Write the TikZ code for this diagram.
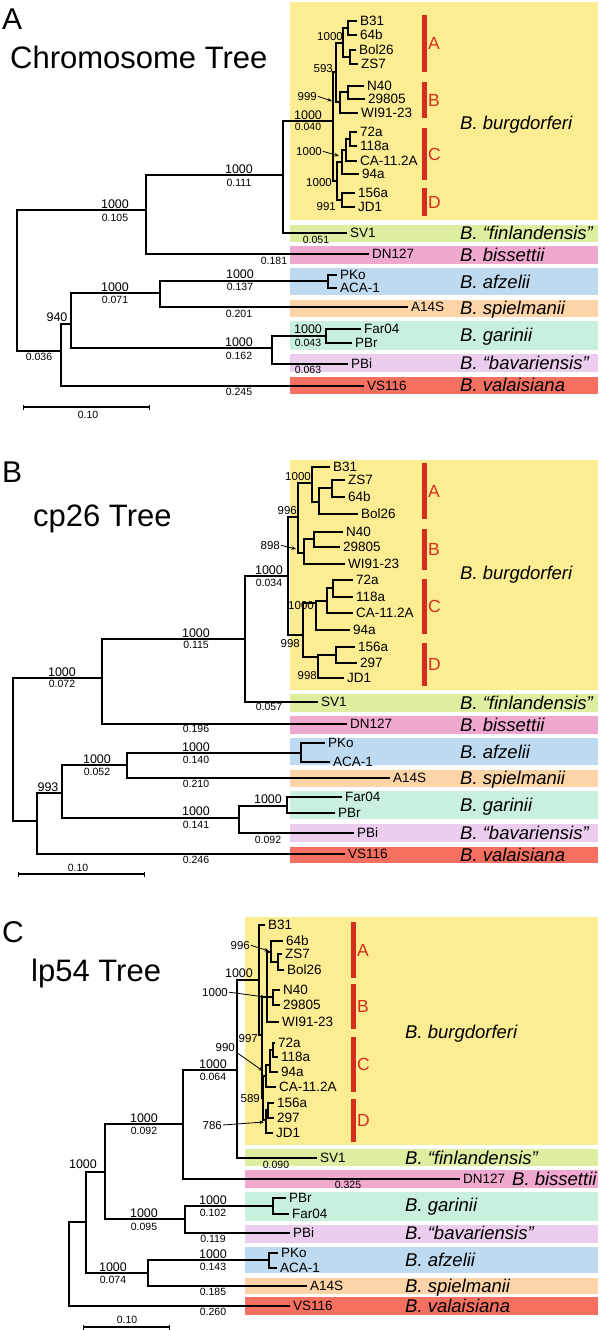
\documentclass[tikz,border=0pt]{standalone}
\usepackage{fontspec}
\setmainfont{Liberation Sans}
\usetikzlibrary{positioning,arrows.meta}

\definecolor{burgY}{RGB}{252,236,146}
\definecolor{finlG}{RGB}{221,238,160}
\definecolor{bissP}{RGB}{240,168,206}
\definecolor{afzB}{RGB}{190,218,240}
\definecolor{spielO}{RGB}{252,212,168}
\definecolor{garM}{RGB}{200,240,220}
\definecolor{bavL}{RGB}{235,206,238}
\definecolor{valR}{RGB}{246,112,98}
\definecolor{cladeR}{RGB}{214,46,30}

\tikzset{
  branch/.style={line width=1.8pt},
  twig/.style={line width=1.4pt},
  taxon/.style={font=\fontsize{13.5}{14}\selectfont, anchor=west, inner sep=0pt, text height=9.7pt, text depth=0pt},
  species/.style={font=\fontsize{18.5}{20}\selectfont\itshape, anchor=west, inner sep=0pt, text height=13.2pt, text depth=0pt},
  boot/.style={font=\fontsize{12.5}{13}\selectfont, anchor=base, inner sep=0pt},
  blen/.style={font=\fontsize{10.5}{11}\selectfont, anchor=base, inner sep=0pt},
  sboot/.style={font=\fontsize{11.5}{12}\selectfont, anchor=base east, inner sep=0pt},
  cladebar/.style={cladeR, line width=5pt},
  cladetag/.style={cladeR, font=\fontsize{17.5}{18}\selectfont, anchor=west, inner sep=0pt, text height=12.5pt, text depth=0pt},
  ptr/.style={line width=0.8pt, shorten <=1pt, -{Stealth[length=4.5pt,width=3.5pt]}},
  scalebar/.style={line width=1.3pt, {Bar[width=5pt,line width=1pt]}-{Bar[width=5pt,line width=1pt]}},
  treetitle/.style={font=\fontsize{31}{34}\selectfont, anchor=base west, inner sep=0pt},
  paneltag/.style={font=\fontsize{30}{32}\selectfont, anchor=base west, inner sep=0pt},
}

\begin{document}
\begin{tikzpicture}[x=1pt,y=-1pt]
  \useasboundingbox (0,0) rectangle (600,1330);

  % ================= Panel A: chromosome tree =================
  \node[paneltag] (tagA) at (2,30) {A};
  \node[treetitle] (titleA) at (10,68) {Chromosome Tree};

  % species bands
  \foreach \yt/\yb/\col in {2/220/burgY, 225/242/finlG, 246/264/bissP, 268/295/afzB,
      300/317/spielO, 321/350/garM, 354/372/bavL, 377/394/valR}
    \fill[\col] (290,\yt) rectangle (598,\yb);
  \foreach \n/\y/\t in {bu/123/burgdorferi, fi/233/“finlandensis”, bi/255/bissettii,
      af/282/afzelii, sp/308/spielmanii, ga/335/garinii, ba/363/“bavariensis”, va/385/valaisiana}
    \node[species] (spA\n) at (460,\y) {B. \t};

  % clade bars
  \foreach \n/\yt/\yb in {A/15/72, B/82/118, C/128/180, D/188/216} {
    \draw[cladebar] (424.5,\yt) -- (424.5,\yb);
    \node[cladetag] (clA\n) at (428,{(\yt+\yb)/2}) {\n};
  }

  % tips
  \foreach \n/\x/\y/\t in {b31/357/21/B31, 64b/357/35/64b, bol/356/50/Bol26, zs7/358/64/ZS7,
      n40/364/86/N40, 298/365/99/29805, wi9/358/113/WI91-23,
      72a/357/132/72a, 118/357/146/118a, ca1/357/161/CA-11.2A, 94a/359/174/94a,
      156/355/193/156a, jd1/355/207/JD1,
      sv1/347/233/SV1, dn1/369/254/DN127, pko/337/275/PKo, aca/337/288/ACA-1,
      a14/408/307/A14S, far/361/329/Far04, pbr/352/343/PBr, pbi/348/364/PBi, vs1/364/386/VS116} {
    \coordinate (tA\n) at (\x,\y);
    \node[taxon, right=3pt of tA\n] (lA\n) {\t};
  }

  % inner nodes
  \coordinate (rA) at (17,280);
  \coordinate (nA2) at (146,210);
  \coordinate (nA3) at (283,175);
  \coordinate (nA4) at (333,121);
  \coordinate (nAab) at (336,72);
  \coordinate (nAa) at (343,43);
  \coordinate (nAa1) at (348,28);
  \coordinate (nAa2) at (350,57);
  \coordinate (nAb) at (340,102);
  \coordinate (nAb1) at (348,92);
  \coordinate (nAcd) at (337,181);
  \coordinate (nAc) at (342,162);
  \coordinate (nAc1) at (346,150);
  \coordinate (nAc2) at (350,139);
  \coordinate (nAd) at (342,200);
  \coordinate (nA9) at (61,351);
  \coordinate (nA10) at (71,324);
  \coordinate (nA11) at (160,293);
  \coordinate (nA12) at (328,281);
  \coordinate (nA13) at (272,348);
  \coordinate (nA14) at (326,336);

  % branches
  \foreach \p/\c in {rA/nA2, rA/nA9, nA2/nA3, nA2/tAdn1, nA3/nA4, nA3/tAsv1,
      nA9/nA10, nA9/tAvs1, nA10/nA11, nA10/nA13, nA11/nA12, nA11/tAa14,
      nA12/tApko, nA12/tAaca, nA13/nA14, nA13/tApbi, nA14/tAfar, nA14/tApbr}
    \draw[branch] (\p) |- (\c);
  \foreach \p/\c in {nA4/nAab, nA4/nAcd, nAab/nAa, nAab/nAb, nAa/nAa1, nAa/nAa2,
      nAa1/tAb31, nAa1/tA64b, nAa2/tAbol, nAa2/tAzs7, nAb/nAb1, nAb/tAwi9,
      nAb1/tAn40, nAb1/tA298, nAcd/nAc, nAcd/nAd, nAc/nAc1, nAc/tA94a,
      nAc1/nAc2, nAc1/tAca1, nAc2/tA72a, nAc2/tA118, nAd/tA156, nAd/tAjd1}
    \draw[twig] (\p) |- (\c);

  % support values and branch lengths
  \foreach \n/\x/\y/\t in {a3/239/173/1000, a2/115/208/1000, a11/115/291/1000, a12/240/278/1000,
      a13/239/346/1000, a4/308/119/1000, a14/308/333/1000, a10/57/321/940}
    \node[boot] (bA\n) at (\x,\y) {\t};
  \foreach \n/\x/\y/\t in {a3/239/186/0.111, a2/115/221/0.105, a9/39/360/0.036, a11/115/303/0.071,
      a12/240/290/0.137, a14s/239/317/0.201, a13/239/359/0.162, vs/239/395/0.245,
      dn/274/264/0.181, sv/316/243/0.051, a4/308/130/0.040, a14/308/346/0.043, pbi/308/373/0.063}
    \node[blen] (lenA\n) at (\x,\y) {\t};
  \foreach \n/\x/\y/\t in {aa/343/41/1000, ab/333/72/593, a999/317/100/999, ac/322/155/1000,
      acd/332/186/1000, ad/336/210/991}
    \node[sboot] (sA\n) at (\x,\y) {\t};
  \coordinate (pA999) at (332,101);
  \coordinate (pAc) at (339,156);
  \draw[ptr] (sAa999.east) -- (pA999);
  \draw[ptr] (sAac.east) -- (pAc);

  % scale bar
  \coordinate (sbA1) at (23,407);
  \coordinate (sbA2) at (150,407);
  \draw[scalebar] (sbA1) -- (sbA2);
  \node[blen] (scA) at (88,418) {0.10};

  % ================= Panel B: cp26 tree =================
  \node[paneltag] (tagB) at (2,482) {B};
  \node[treetitle] (titleB) at (33,526) {cp26 Tree};

  \foreach \yt/\yb/\col in {460/690/burgY, 694/712/finlG, 716/734/bissP, 738/765/afzB,
      770/787/spielO, 791/819/garM, 824/842/bavL, 847/863/valR}
    \fill[\col] (290,\yt) rectangle (598,\yb);
  \foreach \n/\y/\t in {bu/573/burgdorferi, fi/703/“finlandensis”, bi/725/bissettii,
      af/752/afzelii, sp/778/spielmanii, ga/805/garinii, ba/833/“bavariensis”, va/855/valaisiana}
    \node[species] (spB\n) at (460,\y) {B. \t};

  \foreach \n/\yt/\yb in {A/463/519, B/529/570, C/579/634, D/643/686} {
    \draw[cladebar] (424.5,\yt) -- (424.5,\yb);
    \node[cladetag] (clB\n) at (428,{(\yt+\yb)/2}) {\n};
  }

  \foreach \n/\x/\y/\t in {b31/330/467/B31, zs7/345/480/ZS7, 64b/345/497/64b, bol/358/514/Bol26,
      n40/343/532/N40, 298/340/547/29805, wi9/345/564/WI91-23,
      72a/353/580/72a, 118/353/597/118a, ca1/353/613/CA-11.2A, 94a/350/630/94a,
      156/355/647/156a, 297/357/663/297, jd1/344/678/JD1,
      sv1/318/702/SV1, dn1/347/724/DN127, pko/325/743/PKo, aca/330/762/ACA-1,
      a14/390/778/A14S, far/342/797/Far04, pbr/335/813/PBr, pbi/354/833/PBi, vs1/345/854/VS116} {
    \coordinate (tB\n) at (\x,\y);
    \node[taxon, right=3pt of tB\n] (lB\n) {\t};
  }

  \coordinate (rB) at (13,750);
  \coordinate (nB2) at (102,678);
  \coordinate (nB3) at (245,639);
  \coordinate (nB4) at (288,576);
  \coordinate (nBab) at (298,517);
  \coordinate (nBa) at (312,483);
  \coordinate (nBa1) at (319,502);
  \coordinate (nBa2) at (332,488);
  \coordinate (nBb) at (304,553);
  \coordinate (nBb1) at (314,539);
  \coordinate (nBcd) at (303,635);
  \coordinate (nBc) at (316,603);
  \coordinate (nBc1) at (327,601);
  \coordinate (nBc2) at (333,588);
  \coordinate (nBd) at (318,657);
  \coordinate (nBd1) at (336,655);
  \coordinate (nB9) at (37,821);
  \coordinate (nB10) at (62,793);
  \coordinate (nB11) at (127,765);
  \coordinate (nB12) at (301,753);
  \coordinate (nB13) at (239,818);
  \coordinate (nB14) at (287,806);

  \foreach \p/\c in {rB/nB2, rB/nB9, nB2/nB3, nB2/tBdn1, nB3/nB4, nB3/tBsv1,
      nB9/nB10, nB9/tBvs1, nB10/nB11, nB10/nB13, nB11/nB12, nB11/tBa14,
      nB12/tBpko, nB12/tBaca, nB13/nB14, nB13/tBpbi, nB14/tBfar, nB14/tBpbr,
      nB4/nBab, nB4/nBcd, nBab/nBa, nBab/nBb, nBa/tBb31, nBa/nBa1, nBa1/nBa2, nBa1/tBbol,
      nBa2/tBzs7, nBa2/tB64b, nBb/nBb1, nBb/tBwi9, nBb1/tBn40, nBb1/tB298,
      nBcd/nBc, nBcd/nBd, nBc/nBc1, nBc/tB94a, nBc1/nBc2, nBc1/tBca1,
      nBc2/tB72a, nBc2/tB118, nBd/nBd1, nBd/tBjd1, nBd1/tB156, nBd1/tB297}
    \draw[branch] (\p) |- (\c);

  \foreach \n/\x/\y/\t in {b4/269/574/1000, b3/196/637/1000, b2/62/676/1000, b12/196/751/1000,
      b11/97/763/1000, b10/48/791/993, b13/196/815/1000, b14/268/803/1000}
    \node[boot] (bB\n) at (\x,\y) {\t};
  \foreach \n/\x/\y/\t in {b4/269/586/0.034, b3/196/648/0.115, sv/269/710/0.057, b2/62/687/0.072,
      dn/196/732/0.196, b12/196/763/0.140, b11/97/775/0.052, a14/196/787/0.210,
      b13/196/828/0.141, pbi/268/843/0.092, vs/196/863/0.246}
    \node[blen] (lenB\n) at (\x,\y) {\t};
  \foreach \n/\x/\y/\t in {ba/311/480/1000, bab/297/514/996, b898/280/549/898,
      bc/314/609/1000, bcd/300/647/998, bd/317/679/998}
    \node[sboot] (sB\n) at (\x,\y) {\t};
  \coordinate (pB898) at (296,549);
  \draw[ptr] (sBb898.east) -- (pB898);

  \coordinate (sbB1) at (18,874);
  \coordinate (sbB2) at (145,874);
  \draw[scalebar] (sbB1) -- (sbB2);
  \node[blen] (scB) at (78,871) {0.10};

  % ================= Panel C: lp54 tree =================
  \node[paneltag] (tagC) at (2,942) {C};
  \node[treetitle] (titleC) at (31,981) {lp54 Tree};

  \foreach \yt/\yb/\col in {917/1145/burgY, 1149/1166/finlG, 1170/1188/bissP, 1192/1221/garM,
      1225/1243/bavL, 1247/1273/afzB, 1278/1294/spielO, 1297/1315/valR}
    \fill[\col] (245,\yt) rectangle (598,\yb);
  \foreach \n/\y/\t in {bu/1032/burgdorferi, fi/1158/“finlandensis”, ga/1205/garinii,
      ba/1233/“bavariensis”, af/1260/afzelii, sp/1286/spielmanii, va/1306/valaisiana}
    \node[species] (spC\n) at (405,\y) {B. \t};
  \node[species] (spCbi) at (512,1179) {B. bissettii};

  \foreach \n/\yt/\yb in {A/922/978, B/984/1029, C/1037/1092, D/1099/1142} {
    \draw[cladebar] (353.5,\yt) -- (353.5,\yb);
    \node[cladetag] (clC\n) at (357,{(\yt+\yb)/2}) {\n};
  }

  \foreach \n/\x/\y/\t in {b31/265/925/B31, 64b/283/941/64b, zs7/282/954/ZS7, bol/284/970/Bol26,
      n40/280/990/N40, 298/280/1005/29805, wi9/279/1022/WI91-23,
      72a/275/1043/72a, 118/278/1057/118a, 94a/278/1072/94a, ca1/276/1087/CA-11.2A,
      156/274/1103/156a, 297/274/1118/297, jd1/273/1133/JD1,
      sv1/317/1158/SV1, dn1/460/1179/DN127, pbr/286/1198/PBr, far/289/1214/Far04,
      pbi/290/1233/PBi, pko/278/1253/PKo, aca/277/1268/ACA-1, a14/307/1286/A14S, vs1/290/1306/VS116} {
    \coordinate (tC\n) at (\x,\y);
    \node[taxon, right=3pt of tC\n] (lC\n) {\t};
  }

  \coordinate (rC) at (69,1260);
  \coordinate (nC2) at (86,1222);
  \coordinate (nC3) at (105,1172);
  \coordinate (nC4) at (183,1124);
  \coordinate (nC5) at (237,1070);
  \coordinate (nC6) at (259,980);
  \coordinate (nCx) at (262,1035);
  \coordinate (nCab) at (267,997);
  \coordinate (nCa) at (271,952);
  \coordinate (nCa2) at (278,962);
  \coordinate (nCb) at (273,997);
  \coordinate (nCcd) at (263,1098);
  \coordinate (nCc) at (266,1076);
  \coordinate (nCc2) at (270,1065);
  \coordinate (nCc3) at (273,1050);
  \coordinate (nCd) at (266,1120);
  \coordinate (nCd2) at (268,1110);
  \coordinate (nC7) at (185,1219);
  \coordinate (nC8) at (273,1206);
  \coordinate (nC9) at (148,1273);
  \coordinate (nC10) at (269,1260);

  \foreach \p/\c in {rC/nC2, rC/tCvs1, nC2/nC3, nC2/nC9, nC3/nC4, nC3/nC7,
      nC4/nC5, nC4/tCdn1, nC5/nC6, nC5/tCsv1, nC7/nC8, nC7/tCpbi,
      nC8/tCpbr, nC8/tCfar, nC9/nC10, nC9/tCa14, nC10/tCpko, nC10/tCaca}
    \draw[branch] (\p) |- (\c);
  \foreach \p/\c in {nC6/tCb31, nC6/nCx, nCx/nCab, nCx/nCcd, nCab/nCa, nCab/nCb, nCab/tCwi9,
      nCa/tC64b, nCa/nCa2, nCa2/tCzs7, nCa2/tCbol, nCb/tCn40, nCb/tC298,
      nCcd/nCc, nCcd/nCd, nCc/nCc2, nCc/tCca1, nCc2/nCc3, nCc2/tC94a,
      nCc3/tC72a, nCc3/tC118, nCd/nCd2, nCd/tCjd1, nCd2/tC156, nCd2/tC297}
    \draw[twig] (\p) |- (\c);

  \foreach \n/\x/\y/\t in {c5/239/977/1000, c4/213/1068/1000, c3/144/1122/1000, c2/83/1168/1000,
      c7/144/1217/1000, c8/213/1204/1000, c10/213/1258/1000, c9/113/1271/1000}
    \node[boot] (bC\n) at (\x,\y) {\t};
  \foreach \n/\x/\y/\t in {c4/213/1080/0.064, sv/276/1168/0.090, dn/348/1188/0.325,
      c3/144/1134/0.092, c7/144/1230/0.095, c8/213/1216/0.102, pbi/213/1242/0.119,
      c10/213/1270/0.143, c9/113/1283/0.074, a14/213/1295/0.185, vs/213/1315/0.260}
    \node[blen] (lenC\n) at (\x,\y) {\t};
  \foreach \n/\x/\y/\t in {c996/250/949/996, c1000/228/996/1000, c997/258/1042/997,
      c990/235/1051/990, c589/260/1102/589, c786/222/1129/786}
    \node[sboot] (sC\n) at (\x,\y) {\t};
  \coordinate (pC996) at (269,951);
  \coordinate (pC1000) at (265,997);
  \coordinate (pC990) at (263,1071);
  \coordinate (pC786) at (264,1122);
  \draw[ptr] (sCc996.east) -- (pC996);
  \draw[ptr] (sCc1000.east) -- (pC1000);
  \draw[ptr] (sCc990.south east) -- (pC990);
  \draw[ptr] (sCc786.east) -- (pC786);

  \coordinate (sbC1) at (83,1327);
  \coordinate (sbC2) at (170,1327);
  \draw[scalebar] (sbC1) -- (sbC2);
  \node[blen] (scC) at (127,1323) {0.10};
\end{tikzpicture}
\end{document}
